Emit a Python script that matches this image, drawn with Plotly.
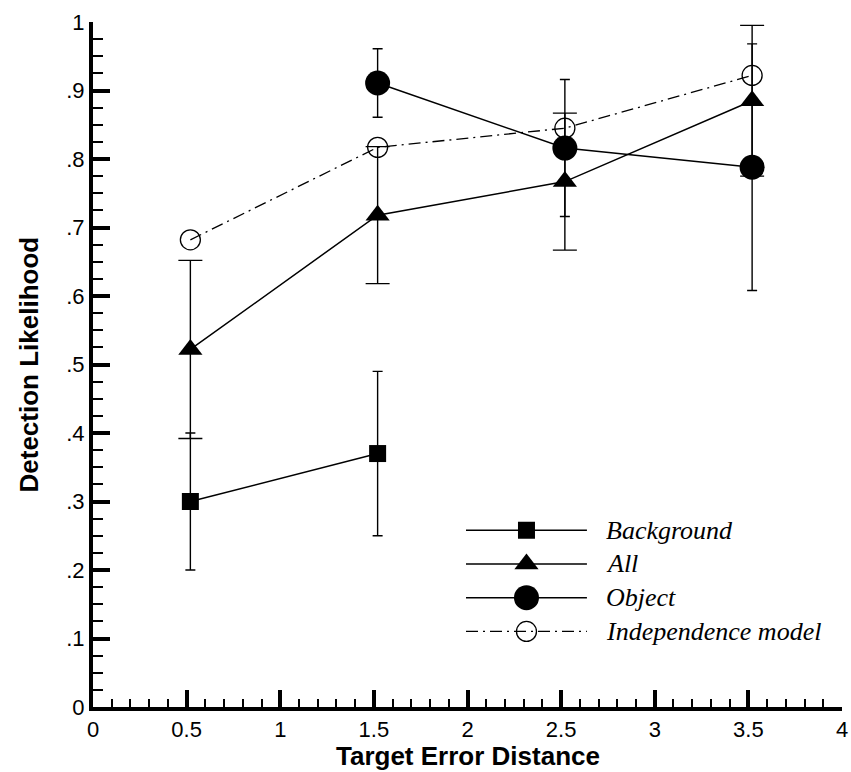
import plotly.graph_objects as go

# ---- data ----
x_bg = [0.52, 1.52]
y_bg = [0.30, 0.37]
e_bg = [0.10, 0.12]

x_all = [0.52, 1.52, 2.52, 3.52]
y_all = [0.522, 0.718, 0.767, 0.885]
e_all = [0.13, 0.10, 0.10, 0.11]

x_obj = [1.52, 2.52, 3.52]
y_obj = [0.911, 0.816, 0.788]
e_obj = [0.05, 0.10, 0.18]

x_ind = [0.52, 1.52, 2.52, 3.52]
y_ind = [0.682, 0.817, 0.845, 0.922]

series_names = ["Background", "All", "Object", "Independence model"]
x_ticks = [0, 0.5, 1, 1.5, 2, 2.5, 3, 3.5, 4]
x_ticktext = ["0", "0.5", "1", "1.5", "2", "2.5", "3", "3.5", "4"]
y_ticks = [0, 0.1, 0.2, 0.3, 0.4, 0.5, 0.6, 0.7, 0.8, 0.9, 1.0]
y_ticktext = ["0", ".1", ".2", ".3", ".4", ".5", ".6", ".7", ".8", ".9", "1"]
x_title = "Target Error Distance"
y_title = "Detection Likelihood"

# ---- styles ----
DASHDOT = "12px,5px,2px,5px"
styles = [
    dict(symbol="square", size=17, dash="solid", fill="black", lw=1.5),
    dict(symbol="triangle-up", size=21, dash="solid", fill="black", lw=1.5),
    dict(symbol="circle", size=25, dash="solid", fill="black", lw=1.5),
    dict(symbol="circle-open", size=20, dash=DASHDOT, fill="black", lw=1.3),
]

fig = go.Figure()

def err(arr, w):
    return dict(type="data", array=arr, visible=True, color="black", thickness=1.4, width=w)

fig.add_trace(go.Scatter(x=x_bg, y=y_bg, mode="lines+markers", error_y=err(e_bg, 5),
                         line=dict(color="black", width=1.5),
                         marker=dict(symbol="square", size=17, color="black"), showlegend=False))
fig.add_trace(go.Scatter(x=x_all, y=y_all, mode="lines+markers", error_y=err(e_all, 12),
                         line=dict(color="black", width=1.5),
                         marker=dict(symbol="triangle-up", size=21, color="black"), showlegend=False))
fig.add_trace(go.Scatter(x=x_obj, y=y_obj, mode="lines+markers", error_y=err(e_obj, 5),
                         line=dict(color="black", width=1.5),
                         marker=dict(symbol="circle", size=25, color="black"), showlegend=False))
fig.add_trace(go.Scatter(x=x_ind, y=y_ind, mode="lines+markers",
                         line=dict(color="black", width=1.3, dash=DASHDOT),
                         marker=dict(symbol="circle-open", size=20, color="black",
                                     line=dict(width=1.3, color="black")), showlegend=False))

# ---- manual legend on an overlay axis ----
for i, (name, st) in enumerate(zip(series_names, styles)):
    fig.add_trace(go.Scatter(x=[0, 2], y=[i, i], xaxis="x2", yaxis="y2", mode="lines",
                             line=dict(color="black", width=st["lw"], dash=st["dash"]),
                             showlegend=False, hoverinfo="skip"))
    mk = dict(symbol=st["symbol"], size=st["size"], color=st["fill"])
    if st["symbol"] == "circle-open":
        mk["line"] = dict(width=1.3, color="black")
    fig.add_trace(go.Scatter(x=[1], y=[i], xaxis="x2", yaxis="y2", mode="markers",
                             marker=mk, showlegend=False, hoverinfo="skip"))
    fig.add_annotation(x=2, y=i, xref="x2", yref="y2", xanchor="left", yanchor="middle",
                       xshift=17, text=name, showarrow=False,
                       font=dict(family="Liberation Serif", size=26, color="black", style="italic"))

# ---- axis titles as annotations ----
title_font = dict(family="Liberation Sans", size=26, color="black", weight="bold")
fig.add_annotation(x=0.5, y=0, xref="paper", yref="paper", yshift=-49,
                   xanchor="center", yanchor="middle", text=x_title, showarrow=False, font=title_font)
fig.add_annotation(x=0, y=0.5, xref="paper", yref="paper", xshift=-65, textangle=-90,
                   xanchor="center", yanchor="middle", text=y_title, showarrow=False, font=title_font)

axis_font = dict(family="Liberation Sans", size=22, color="black")
fig.update_layout(
    width=851, height=772,
    margin=dict(l=93, r=9, t=22, b=65, autoexpand=False),
    paper_bgcolor="white", plot_bgcolor="white",
    showlegend=False,
    xaxis=dict(range=[0, 4], tickvals=x_ticks, ticktext=x_ticktext, automargin=False,
               showline=True, linewidth=4, linecolor="black", mirror=False,
               ticks="inside", ticklen=17, tickwidth=4, tickcolor="black",
               minor=dict(dtick=0.1, tick0=0, ticks="inside", ticklen=8, tickwidth=1.5, tickcolor="black"),
               showgrid=False, zeroline=False, tickfont=axis_font),
    yaxis=dict(range=[0, 1], tickvals=y_ticks, ticktext=y_ticktext, automargin=False,
               showline=True, linewidth=4, linecolor="black", mirror=False,
               ticks="inside", ticklen=17, tickwidth=4, tickcolor="black",
               minor=dict(dtick=0.025, tick0=0, ticks="inside", ticklen=10, tickwidth=1.5, tickcolor="black"),
               showgrid=False, zeroline=False, tickfont=axis_font),
    xaxis2=dict(domain=[0.498, 0.6595], range=[0, 2], visible=False, anchor="y2", fixedrange=True),
    yaxis2=dict(domain=[0.0857, 0.2828], range=[3.5, -0.5], visible=False, anchor="x2", fixedrange=True),
)

fig.write_html("out.html", config={"displayModeBar": False},
               post_script="document.body.style.margin='0';document.body.style.overflow='hidden';")
